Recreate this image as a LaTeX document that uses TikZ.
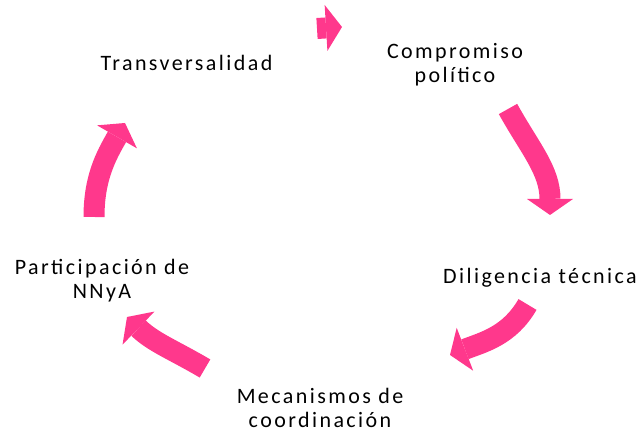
\documentclass[tikz,border=0pt]{standalone}
\usepackage{fontspec}
\setmainfont{Carlito}[LetterSpace=11]
\usetikzlibrary{arrows.meta}
\definecolor{cyclePink}{RGB}{255,56,140}

\begin{document}
\begin{tikzpicture}[x=1pt,y=1pt,
        labelNode/.style = {font=\fontsize{22}{24}\selectfont,align=center,inner sep=0pt,anchor=base},
        cycleArrow/.style = {draw=cyclePink,line width=21pt,-{Triangle[width=46pt,length=16pt,line width=0pt]}}
        ]
        \useasboundingbox (0,0) rectangle (640,435);
        % labels of the cycle
        \node[labelNode] (comp) at (455,352) {Compromiso\\político};
        \node[labelNode] (dil) at (540,151) {Diligencia técnica};
        \node[labelNode] (mec) at (320,7) {Mecanismos de\\coordinación};
        \node[labelNode] (part) at (102,136) {Participación de\\NNyA};
        \node[labelNode] (trans) at (186.5,364) {Transversalidad};
        % arrow ends
        \coordinate (transOut) at (317,406.5);
        \coordinate (compIn) at (342,408);
        \coordinate (compOut) at (508,326);
        \coordinate (dilIn) at (550,220);
        \coordinate (dilOut) at (527.5,130.5);
        \coordinate (mecIn) at (450,80);
        \coordinate (mecOut) at (205,66.5);
        \coordinate (partIn) at (127,118);
        \coordinate (partOut) at (94,218);
        \coordinate (transIn) at (125,312);
        \draw[cycleArrow] (transOut) -- (compIn);
        \draw[cycleArrow] (compOut) to[out=-61,in=90] (dilIn);
        \draw[cycleArrow] (dilOut) to[out=240,in=21] (mecIn);
        \draw[cycleArrow] (mecOut) to[out=149.5,in=316] (partIn);
        \draw[cycleArrow] (partOut) to[out=90,in=240] (transIn);
\end{tikzpicture}
\end{document}
